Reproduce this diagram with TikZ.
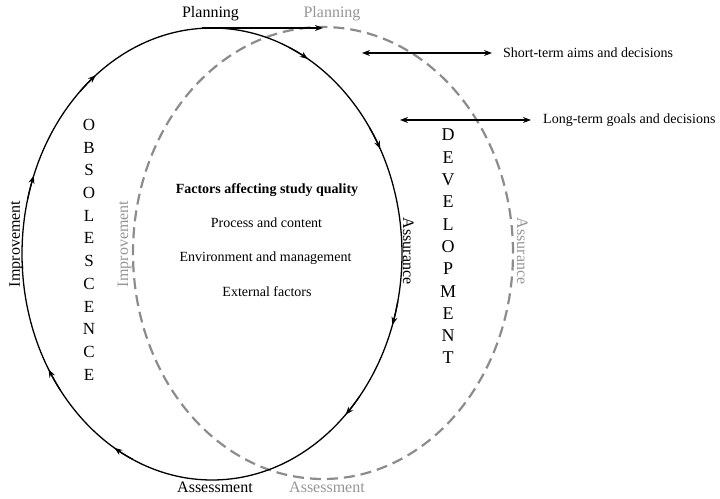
\documentclass[tikz,border=0pt]{standalone}
\usepackage{fontspec}
\setmainfont{Liberation Serif}
\usetikzlibrary{arrows.meta,calc}
\definecolor{dgray}{RGB}{140,140,140}
\definecolor{tgray}{RGB}{150,150,150}
\begin{document}
\begin{tikzpicture}[x=1pt,y=1pt,
  cyc/.style={line width=1.3pt, black},
  gcyc/.style={line width=2.2pt, dgray, dash pattern=on 11pt off 6pt},
  tipend/.style={-{Stealth[length=8pt,width=6pt]}},
  lab/.style={font=\fontsize{16}{16}\selectfont, inner sep=0pt},
  glab/.style={lab, text=tgray},
  rlab/.style={font=\fontsize{14}{14}\selectfont, anchor=west, inner sep=0pt},
  ctext/.style={font=\fontsize{14}{14}\selectfont, inner sep=0pt},
  letter/.style={inner sep=0pt, anchor=base},
  dbl/.style={line width=1.2pt, {Stealth[length=8pt,width=6pt]}-{Stealth[length=8pt,width=6pt]}}
]
\useasboundingbox (0,0) rectangle (720,498);

\coordinate (bc) at (212,244);
\coordinate (gc) at (323,245);

% dashed cycle
\draw[gcyc] (gc) ellipse [x radius=190, y radius=226];
% solid cycle
\draw[cyc] (bc) ellipse [x radius=190, y radius=226];
\foreach \a in {61,29,-17,-44,-119.6,-148,161,129}{
  \draw[cyc, tipend] (bc) ++(\a+5:190 and 226)
    arc[start angle=\a+5, end angle=\a-1.3, x radius=190, y radius=226];
}

\coordinate (btop) at ($(bc)+(0,226)$);
\coordinate (gtop) at ($(gc)+(0,226)$);
\draw[cyc, tipend] ([xshift=-10pt]btop) -- (gtop |- btop);

% cycle labels
\node[lab, anchor=base] (plan) at (210.5,480) {Planning};
\node[glab, anchor=base] (gplan) at (332,480) {Planning};
\node[lab, anchor=base] (assess) at (215,6) {Assessment};
\node[glab, anchor=base] (gassess) at (327,6) {Assessment};
\node[lab, rotate=90, anchor=base] (impr) at (20,254) {Improvement};
\node[glab, rotate=90, anchor=base] (gimpr) at (128,254) {Improvement};
\node[lab, rotate=-90, anchor=base] (assur) at (403,247) {Assurance};
\node[glab, rotate=-90, anchor=base] (gassur) at (517,247) {Assurance};

% centre text
\node[ctext, font=\fontsize{14}{14}\selectfont\bfseries] (fac) at (267,308) {Factors affecting study quality};
\node[ctext] (proc) at (266.5,275) {Process and content};
\node[ctext] (env) at (265.5,240) {Environment and management};
\node[ctext] (ext) at (267,206) {External factors};

% vertical words
\foreach \ch [count=\i from 0] in {O,B,S,O,L,E,S,C,E,N,C,E}{
  \node[letter, font=\fontsize{17}{17}\selectfont] (ob\i) at (89,367.5-22.7*\i) {\ch};
}
\foreach \ch [count=\i from 0] in {D,E,V,E,L,O,P,M,E,N,T}{
  \node[letter, font=\fontsize{18}{18}\selectfont] (dv\i) at (448,357-22.3*\i) {\ch};
}

% right-hand legends
\node[rlab] (st) at (503,445) {Short-term aims and decisions};
\node[rlab] (lt) at (543,378) {Long-term goals and decisions};
\coordinate (s1) at (362,445);
\coordinate (l1) at (400,378);
\draw[dbl] (s1) -- ([xshift=-11pt]st.west);
\draw[dbl] (l1) -- ([xshift=-12pt]lt.west);
\end{tikzpicture}
\end{document}
